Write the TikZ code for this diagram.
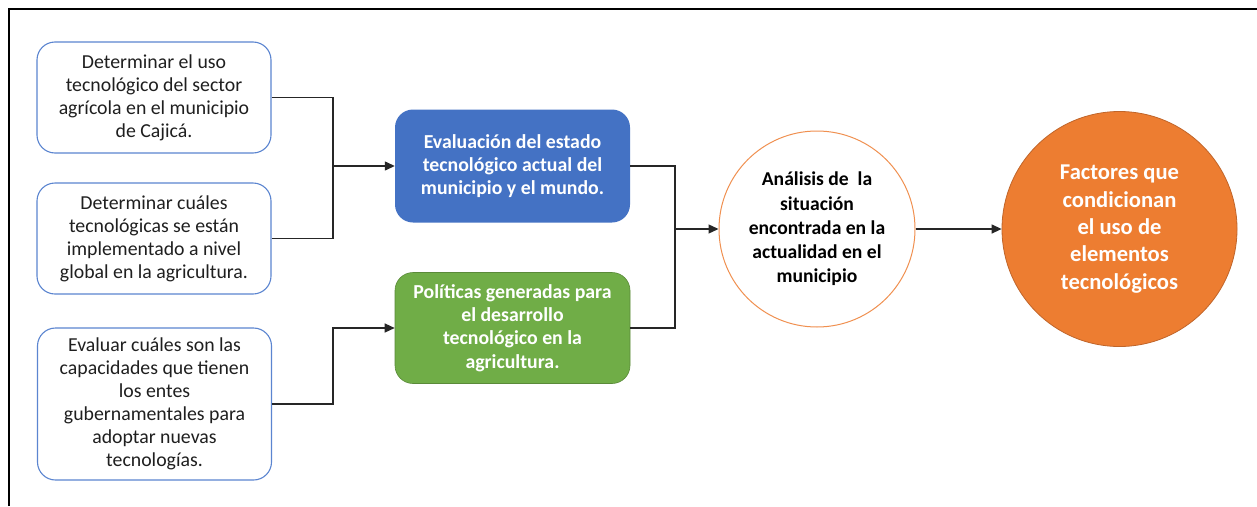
\documentclass[tikz,border=0pt]{standalone}
\usepackage{fontspec}
\setmainfont{Carlito}
\usetikzlibrary{arrows.meta}
\definecolor{cblue}{HTML}{4472C4}
\definecolor{cgreen}{HTML}{70AD47}
\definecolor{corange}{HTML}{ED7D31}
\definecolor{corangedark}{HTML}{C0652A}
\definecolor{cborder}{HTML}{5B85D0}
\tikzset{
  leftbox/.style={draw=cborder, line width=1.1pt, rounded corners=18pt, fill=white,
    minimum width=234pt, align=center, text=black!88, inner sep=0pt,
    font=\fontsize{19.8}{23}\selectfont},
  midbox/.style={rounded corners=18pt, minimum width=235pt, align=center, text=white, inner sep=0pt,
    font=\fontsize{19.8}{23.3}\selectfont\bfseries},
  circA/.style={circle, draw=corange!85, line width=1pt, fill=white, minimum size=196pt, inner sep=0pt,
    align=center, text=black, font=\fontsize{19.6}{24.2}\selectfont\bfseries},
  circB/.style={circle, draw=corangedark, line width=0.8pt, fill=corange, minimum size=235pt, inner sep=0pt,
    align=center, text=white, font=\fontsize{22.6}{27.4}\selectfont\bfseries},
  conn/.style={line width=1.3pt, draw=black!85},
  arr/.style={conn, -{Triangle[length=10pt,width=9pt]}},
}
\begin{document}
\begin{tikzpicture}[x=1pt,y=-1pt]
\useasboundingbox (0,0) rectangle (1257,506);
\fill[white] (0,0) rectangle (1257,506);
\draw[line width=2pt, black] (9,506) -- (9,9) -- (1257,9);

\node[leftbox, minimum height=111pt] (b1) at (154,97.5)
  {Determinar el uso\\tecnológico del sector\\agrícola en el municipio\\de Cajicá.};
\node[leftbox, minimum height=111pt] (b2) at (154,238.5)
  {Determinar cuáles\\tecnológicas se están\\implementado a nivel\\global en la agricultura.};
\node[leftbox, minimum height=152pt] (b3) at (154.5,404)
  {Evaluar cuáles son las\\capacidades que tienen\\los entes\\gubernamentales para\\adoptar nuevas\\tecnologías.};

\node[midbox, fill=cblue, minimum height=113pt] (blue) at (512.5,166)
  {Evaluación del estado\\tecnológico actual del\\municipio y el mundo.};
\node[midbox, fill=cgreen, draw=cgreen!80!black, line width=0.6pt, minimum height=111pt] (green) at (512.5,328)
  {Políticas generadas para\\el desarrollo\\tecnológico en la\\agricultura.};

\node[circA] (c1) at (817,229)
  {Análisis de\ \ la\\situación\\encontrada en la\\actualidad en el\\municipio};
\node[circB] (c2) at (1119.5,229)
  {Factores que\\condicionan\\el uso de\\elementos\\tecnológicos};

\coordinate (j1) at (333,166);
\coordinate (j2) at (333,328);
\coordinate (j3) at (675,229);

\draw[conn] (b1.east) -| (j1);
\draw[conn] (b2.east) -| (j1);
\draw[arr] (j1) -- (blue.west);
\draw[arr] (b3.east) -| (j2) -- (green.west);
\draw[conn] (blue.east) -| (j3);
\draw[conn] (green.east) -| (j3);
\draw[arr] (j3) -- (c1.west);
\draw[arr] (c1.east) -- (c2.west);
\end{tikzpicture}
\end{document}
